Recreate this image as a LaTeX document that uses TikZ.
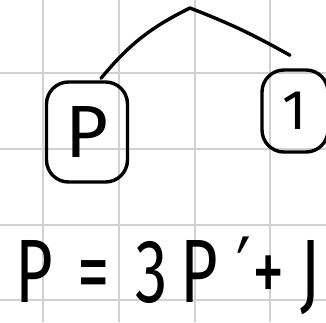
\documentclass[tikz,border=0pt]{standalone}
\usepackage{fontspec}
\setsansfont{Fira Sans}
\newfontfamily\primefont{DejaVu Sans}
\usepackage{tikz}
\usetikzlibrary{positioning, calc}

\begin{document}
\begin{tikzpicture}[
    x=1pt, y=-1pt,
    gridline/.style={draw=black!18, line width=1.6pt},
    hand/.style={line width=3.4pt, line cap=round, line join=round},
    leaf/.style={draw, hand, rounded corners=22pt, inner sep=0pt, font=\fontsize{74}{80}\sffamily},
    formel/.style={anchor=base west, xscale=0.72, transform shape, inner sep=0pt,
                   font=\fontsize{90}{92}\sffamily}
  ]
    \useasboundingbox (0,0) rectangle (326,322);
    \foreach \gx in {43,119,195,270} \draw[gridline] (\gx,0) -- (\gx,322);
    \foreach \gy in {73,149,225,300} \draw[gridline] (0,\gy) -- (326,\gy);

    \coordinate (root) at (190,8);
    \node[leaf, minimum width=81pt, minimum height=100pt] (pbox) at (87,132) {P};
    \node[leaf, minimum width=66pt, minimum height=82pt, font=\fontsize{56}{58}\sffamily] (one) at (295,111) {1};

    \draw[hand] (root) to[bend right=12] ([shift={(14,-2)}]pbox.north);
    \draw[hand] (root) to[bend left=4] ([shift={(-5,-13)}]one.north);

    \node[formel] (formel) at (15,302) {P\hspace{0.38em}=\hspace{0.4em}3\hspace{0.2em}P\hspace{0.28em}{\primefont ′}\hspace{0.02em}+\hspace{0.24em}J};
\end{tikzpicture}
\end{document}
